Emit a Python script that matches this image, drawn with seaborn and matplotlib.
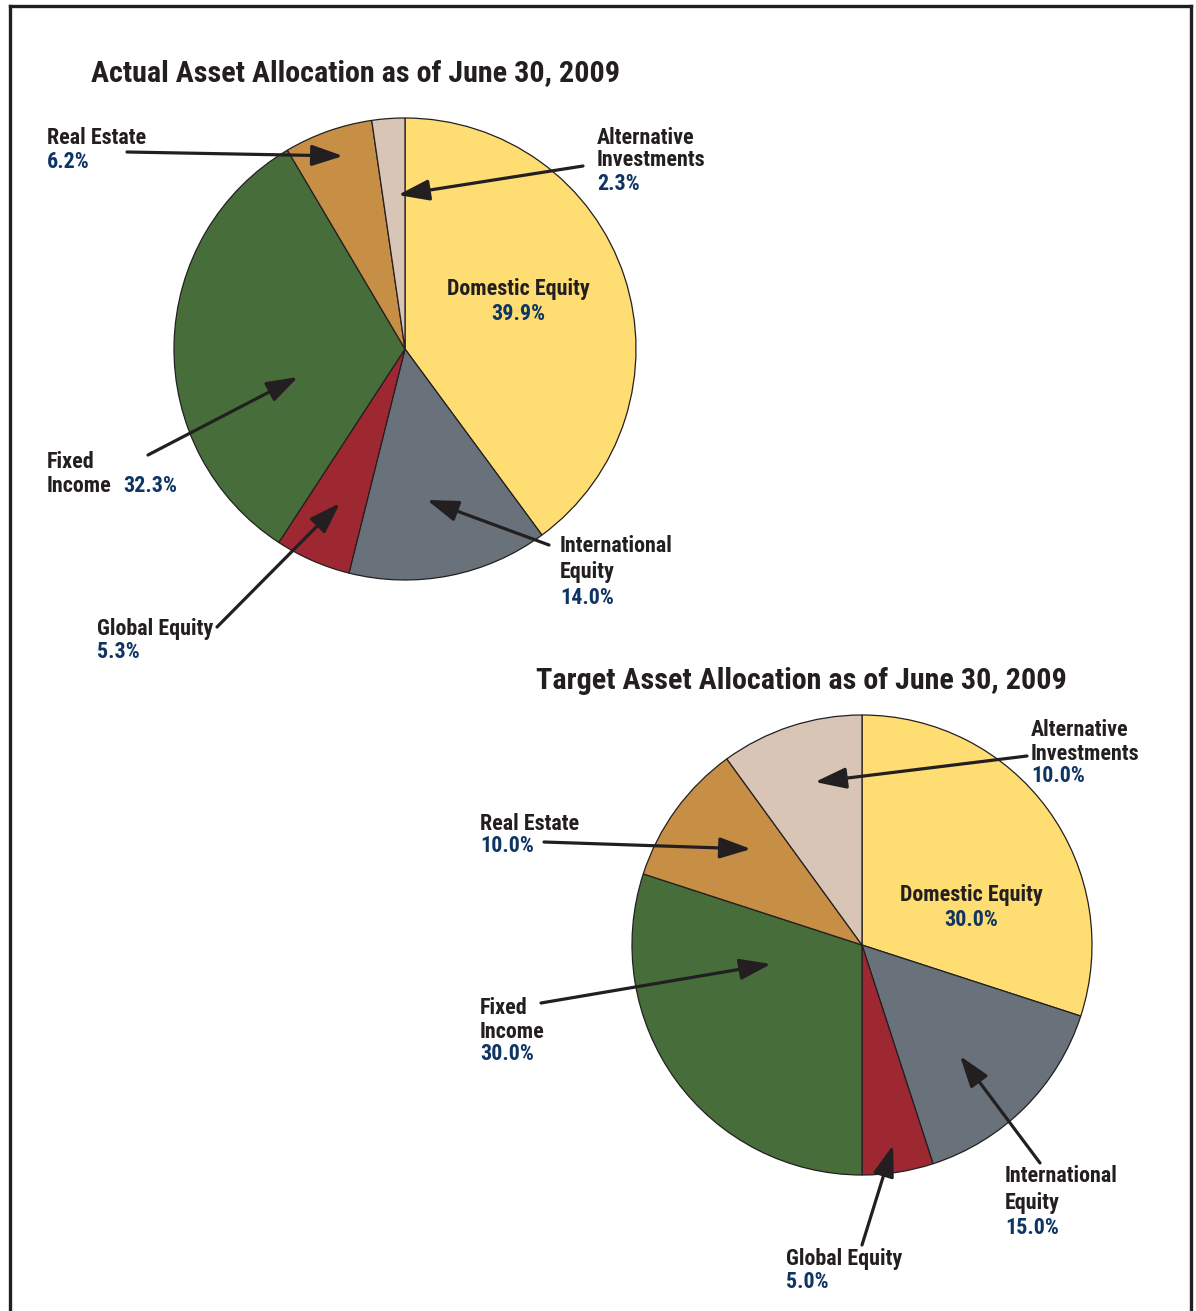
import matplotlib
matplotlib.use("Agg")
import matplotlib.pyplot as plt
import seaborn as sns

# Asset classes, in clockwise order starting from 12 o'clock
categories = ["Domestic Equity", "International Equity", "Global Equity",
              "Fixed Income", "Real Estate", "Alternative Investments"]
actual_pct = [39.9, 14.0, 5.3, 32.3, 6.2, 2.3]
target_pct = [30.0, 15.0, 5.0, 30.0, 10.0, 10.0]
slice_colors = ["#FEDD72", "#69727A", "#9E2832", "#476E3A", "#C68F45", "#D8C5B6"]
titles = ["Actual Asset Allocation as of June 30, 2009",
          "Target Asset Allocation as of June 30, 2009"]

sns.set_theme(style="white")
plt.rcParams["font.family"] = ["Roboto Condensed", "PT Sans Narrow", "DejaVu Sans"]
plt.rcParams["font.weight"] = "bold"

W, H = 1196, 1311
INK = "#231F20"
NAVY = "#0F3564"
LABEL_SIZE = 15.8
TITLE_SIZE = 21.7
DY = 1.5  # nudges text centres down slightly

fig = plt.figure(figsize=(W / 100, H / 100), dpi=100)
ax = fig.add_axes([0, 0, 1, 1])


def Y(p):
    return H - p


def pie(values, cx, cy, r):
    ax.pie(values, colors=slice_colors, startangle=90, counterclock=False,
           center=(cx, Y(cy)), radius=r, frame=True,
           wedgeprops=dict(edgecolor=INK, linewidth=0.9))


def lines(x, y, parts, step=23, ha="left", size=LABEL_SIZE):
    for i, (txt, col) in enumerate(parts):
        ax.text(x, Y(y + DY + i * step), txt, color=col, fontsize=size,
                fontweight="bold", ha=ha, va="center")


def arrow(start, end):
    ax.annotate("", xy=(end[0], Y(end[1])), xytext=(start[0], Y(start[1])),
                arrowprops=dict(arrowstyle="-|>,head_length=0.95,head_width=0.32",
                                color=INK, lw=2.3, shrinkA=0, shrinkB=0,
                                mutation_scale=20))


def pct(v):
    return f"{v:.1f}%"


# Actual allocation
pie(actual_pct, 405, 349, 231)
ax.text(91, Y(73), titles[0], fontsize=TITLE_SIZE, fontweight="bold", color=INK,
        ha="left", va="center")
a = dict(zip(categories, actual_pct))
lines(47, 136, [("Real Estate", INK), (pct(a["Real Estate"]), NAVY)], step=24)
arrow((127, 152), (343, 156))
lines(597, 136, [("Alternative", INK), ("Investments", INK),
                 (pct(a["Alternative Investments"]), NAVY)])
arrow((583, 166), (398, 195))
lines(518, 288, [("Domestic Equity", INK), (pct(a["Domestic Equity"]), NAVY)],
      step=25, ha="center")
lines(560, 545, [("International", INK), ("Equity", INK),
                 (pct(a["International Equity"]), NAVY)], step=25.5)
arrow((549, 545), (427, 500))
lines(47, 460, [("Fixed", INK), ("Income", INK)], step=24)
ax.text(123, Y(484 + DY), pct(a["Fixed Income"]), color=NAVY, fontsize=LABEL_SIZE,
        fontweight="bold", ha="left", va="center")
arrow((148, 455), (298, 377))
lines(97, 628, [("Global Equity", INK), (pct(a["Global Equity"]), NAVY)])
arrow((217, 627), (340, 503))

# Target allocation
pie(target_pct, 862, 945, 230)
ax.text(536, Y(681), titles[1], fontsize=TITLE_SIZE, fontweight="bold", color=INK,
        ha="left", va="center")
t = dict(zip(categories, target_pct))
lines(1031, 729, [("Alternative", INK), ("Investments", INK),
                  (pct(t["Alternative Investments"]), NAVY)])
arrow((1027, 756), (815, 782))
lines(480, 822, [("Real Estate", INK), (pct(t["Real Estate"]), NAVY)])
arrow((544, 842), (751, 849))
lines(971, 893, [("Domestic Equity", INK), (pct(t["Domestic Equity"]), NAVY)],
      step=26, ha="center")
lines(480, 1007, [("Fixed", INK), ("Income", INK),
                  (pct(t["Fixed Income"]), NAVY)])
arrow((541, 1003), (771, 964))
lines(1005, 1175, [("International", INK), ("Equity", INK),
                   (pct(t["International Equity"]), NAVY)], step=26)
arrow((1040, 1163), (960, 1056))
lines(786, 1258, [("Global Equity", INK), (pct(t["Global Equity"]), NAVY)])
arrow((862, 1245), (893, 1145))

# Page frame, open at the bottom
frame_kw = dict(color=INK, lw=2.4, solid_capstyle="projecting")
ax.plot([10, 10], [Y(1311), Y(6)], **frame_kw)
ax.plot([10, 1191], [Y(6), Y(6)], **frame_kw)
ax.plot([1191, 1191], [Y(6), Y(1311)], **frame_kw)

ax.set_xlim(0, W)
ax.set_ylim(0, H)
ax.set_aspect("equal")
ax.axis("off")

fig.savefig("out.png", dpi=100, facecolor="white")
